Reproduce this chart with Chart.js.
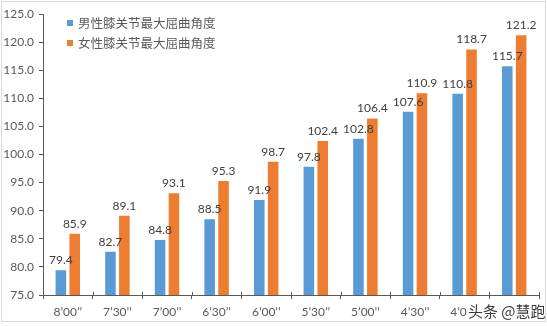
<!DOCTYPE html>
<html>
<head>
<meta charset="utf-8">
<script src="https://cdn.jsdelivr.net/npm/chart.js@4/dist/chart.umd.min.js"></script>
<style>
  html, body { margin: 0; padding: 0; background: #fff; }
  #wrap { position: relative; width: 547px; height: 326px; background: #fff; }
  #frame { position: absolute; left: 1px; top: 1px; width: 543px; height: 319px; border: 1px solid #d9d9d9; pointer-events: none; }
  canvas { position: absolute; left: 0; top: 0; }
</style>
</head>
<body>
<div id="wrap">
  <canvas id="chart" width="547" height="326"></canvas>
  <div id="frame"></div>
</div>
<script>
// Pace categories (min'sec'' per km)
const paceLabels = ["8’00’’", "7’30’’", "7’00’’", "6’30’’", "6’00’’", "5’30’’", "5’00’’", "4’30’’", "4’00’’", "3’30’’"];
// Maximum knee flexion angle (degrees)
const maleAngles = [79.4, 82.7, 84.8, 88.5, 91.9, 97.8, 102.8, 107.6, 110.8, 115.7];
const femaleAngles = [85.9, 89.1, 93.1, 95.3, 98.7, 102.4, 106.4, 110.9, 118.7, 121.2];
const seriesNames = ["男性膝关节最大屈曲角度", "女性膝关节最大屈曲角度"];
const watermarkText = "头条 @慧跑";

const FONT = "Lato, 'Noto Sans CJK SC', sans-serif";
const CJK = "'Noto Sans CJK SC', Lato, sans-serif";
const BLUE = "#5B9BD5";
const ORANGE = "#ED7D31";
const AXIS = "#595959";

const overlay = {
  id: "overlay",
  afterDatasetsDraw(chart) {
    const ctx = chart.ctx;
    ctx.save();
    ctx.font = "12px " + FONT;
    ctx.fillStyle = "#404040";
    ctx.textAlign = "center";
    ctx.textBaseline = "bottom";
    chart.data.datasets.forEach((ds, di) => {
      chart.getDatasetMeta(di).data.forEach((bar, i) => {
        ctx.fillText(ds.data[i].toFixed(1), bar.x, bar.y - 4);
      });
    });
    ctx.restore();
  },
  afterDraw(chart) {
    const ctx = chart.ctx;
    const xs = chart.scales.x;
    const area = chart.chartArea;
    ctx.save();
    // upper half of the category separator ticks
    const half = (xs.getPixelForValue(1) - xs.getPixelForValue(0)) / 2;
    ctx.strokeStyle = AXIS;
    ctx.lineWidth = 1;
    for (let i = 0; i <= paceLabels.length; i++) {
      const x = Math.round(xs.getPixelForValue(0) - half + i * 2 * half) + 0.5;
      ctx.beginPath();
      ctx.moveTo(x, area.bottom - 3);
      ctx.lineTo(x, area.bottom);
      ctx.stroke();
    }
    // legend
    const colors = [BLUE, ORANGE];
    ctx.font = "12.5px " + CJK;
    ctx.textBaseline = "middle";
    ctx.textAlign = "left";
    seriesNames.forEach((name, k) => {
      const y = 23 + k * 20;
      ctx.fillStyle = colors[k];
      ctx.fillRect(67, y - 3, 6, 6);
      ctx.fillStyle = AXIS;
      ctx.fillText(name, 78, y);
    });
    // watermark
    ctx.fillStyle = "#fff";
    ctx.fillRect(467, 301, 76, 19);
    ctx.font = "15px " + CJK;
    ctx.textBaseline = "middle";
    ctx.lineWidth = 3;
    ctx.strokeStyle = "#fff";
    ctx.strokeText(watermarkText, 468, 311);
    ctx.fillStyle = "#3a3a3a";
    ctx.fillText(watermarkText, 468, 311);
    ctx.restore();
  }
};

new Chart(document.getElementById("chart"), {
  type: "bar",
  data: {
    labels: paceLabels,
    datasets: [
      { label: seriesNames[0], data: maleAngles, backgroundColor: BLUE },
      { label: seriesNames[1], data: femaleAngles, backgroundColor: ORANGE }
    ]
  },
  options: {
    responsive: false,
    devicePixelRatio: 1,
    animation: false,
    categoryPercentage: 0.56,
    barPercentage: 0.76,
    layout: { padding: { top: 14, right: 8, left: 0, bottom: 0 } },
    plugins: { legend: { display: false }, tooltip: { enabled: false } },
    scales: {
      x: {
        grid: { drawOnChartArea: false, drawTicks: true, tickLength: 4, color: AXIS, offset: true },
        border: { color: AXIS, width: 1 },
        ticks: { font: { family: FONT, size: 12 }, color: AXIS, padding: 6, maxRotation: 0 },
        afterFit(scale) { scale.height = 31; }
      },
      y: {
        min: 75,
        max: 125,
        grid: { drawOnChartArea: false, drawTicks: true, tickLength: 4, color: AXIS },
        border: { color: AXIS, width: 1 },
        ticks: { stepSize: 5, font: { family: FONT, size: 12 }, color: AXIS, padding: 5,
                 callback: v => Number(v).toFixed(1) },
        afterFit(scale) { scale.width = 43; }
      }
    }
  },
  plugins: [overlay]
});
</script>
</body>
</html>
